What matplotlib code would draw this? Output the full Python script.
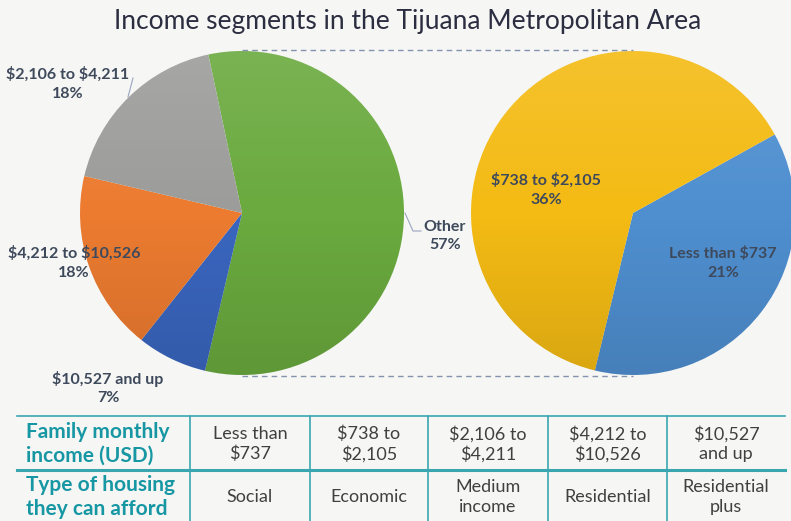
import numpy as np
import matplotlib.pyplot as plt
from matplotlib.lines import Line2D
from matplotlib.patches import Circle

# left pie: share of families by monthly income (USD)
left_labels = ["Other", "$10,527 and up", "$4,212 to $10,526", "$2,106 to $4,211"]
left_values = [57, 7, 18, 18]
left_colors = ["#6aaa3e", "#3a66bf", "#ec7b30", "#9c9c9a"]

# right pie: breakdown of "Other"
right_labels = ["Less than $737", "$738 to $2,105"]
right_values = [21, 36]
right_colors = ["#4f8fd0", "#f4bb14"]

# table below
row_headers = ["Family monthly\nincome (USD)", "Type of housing\nthey can afford"]
income_cells = ["Less than\n$737", "$738 to\n$2,105", "$2,106 to\n$4,211",
                "$4,212 to\n$10,526", "$10,527\nand up"]
housing_cells = ["Social", "Economic", "Medium\nincome", "Residential",
                 "Residential\nplus"]

W, H = 791, 521
bg = "#f6f6f4"
label_color = "#3e4a5c"
teal = "#1797a4"
line_teal = "#3aa6b0"

fig = plt.figure(figsize=(W / 100, H / 100), dpi=100, facecolor=bg)

# overlay axes in pixel coordinates for text / lines
ov = fig.add_axes([0, 0, 1, 1], facecolor="none", zorder=3)
ov.set_xlim(0, W)
ov.set_ylim(H, 0)
ov.axis("off")


def pie_axes(cx, cy, r):
    ax = fig.add_axes([(cx - r) / W, (H - cy - r) / H, 2 * r / W, 2 * r / H])
    ax.set_facecolor("none")
    return ax


def shade(ax):
    # soft vertical gradient: lighter at top, darker at bottom
    t = np.linspace(0, 1, 200)[:, None]
    img = np.zeros((200, 1, 4))
    img[..., :3] = np.where(t < 0.5, 1.0, 0.0)[..., None]
    img[..., 3] = np.abs(0.5 - t) * 0.22
    im = ax.imshow(img, extent=(-1, 1, -1, 1), aspect="auto", zorder=5,
                   interpolation="bilinear")
    im.set_clip_path(Circle((0, 0), 1, transform=ax.transData))


axl = pie_axes(242, 213, 162)
axl.pie(left_values, colors=left_colors, startangle=102, counterclock=False,
        radius=1, wedgeprops=dict(linewidth=0))
axl.set_xlim(-1, 1)
axl.set_ylim(-1, 1)
shade(axl)
axl.set_aspect("auto")
axl.axis("off")

axr = pie_axes(633, 213, 162)
axr.pie(right_values, colors=right_colors, startangle=29, counterclock=False,
        radius=1, wedgeprops=dict(linewidth=0))
axr.set_xlim(-1, 1)
axr.set_ylim(-1, 1)
shade(axr)
axr.set_aspect("auto")
axr.axis("off")

# connector lines
for y in (50, 376):
    ov.add_line(Line2D([242, 633], [y, y], color="#8492ad", lw=1,
                       linestyle=(0, (4, 3))))

ov.text(W / 2 + 12, 21, "Income segments in the Tijuana Metropolitan Area",
        ha="center", va="center", fontsize=19, color="#2b2d40",
        family="Lato", weight="normal")

lab = dict(ha="center", va="center", fontsize=11.5, color=label_color,
           family="Lato", weight="bold", linespacing=1.45, parse_math=False)


def pct(name, vals, i):
    return f"{name}\n{vals[i]}%"


ov.text(68, 84, pct(left_labels[3], left_values, 3), **lab)
ov.text(74, 263, pct(left_labels[2], left_values, 2), **lab)
ov.text(108, 388, pct(left_labels[1], left_values, 1), **lab)
ov.text(445, 236, pct(left_labels[0], left_values, 0), **lab)
ov.text(546, 190, pct(right_labels[1], right_values, 1), **lab)
ov.text(723, 263, pct(right_labels[0], right_values, 0), **lab)

# leader lines
ov.add_line(Line2D([133, 128], [78, 97], color="#9aa4c0", lw=0.8))
ov.add_line(Line2D([405, 413, 421], [213, 231, 231], color="#9aa4c0", lw=0.8))

# table
xs = [17, 190, 310, 428, 548, 667, 785]
ov.add_line(Line2D([17, 785], [416, 416], color=line_teal, lw=1.2))
ov.add_line(Line2D([17, 785], [470, 470], color=line_teal, lw=2.2))
for x in xs[1:-1]:
    ov.add_line(Line2D([x, x], [416, H], color=line_teal, lw=1.2))

row_y = [444, 497]
for j, head in enumerate(row_headers):
    ov.text(26, row_y[j], head, ha="left", va="center", fontsize=15,
            color=teal, family="Lato", weight="bold", linespacing=1.2)

body = dict(ha="center", va="center", fontsize=13, color="#404040",
            family="Lato", weight="normal", linespacing=1.25, parse_math=False)
for i in range(5):
    cx = (xs[i + 1] + xs[i + 2]) / 2
    ov.text(cx, row_y[0], income_cells[i], **body)
    ov.text(cx, row_y[1], housing_cells[i], **body)

fig.savefig("out.png", dpi=100, facecolor=bg)
